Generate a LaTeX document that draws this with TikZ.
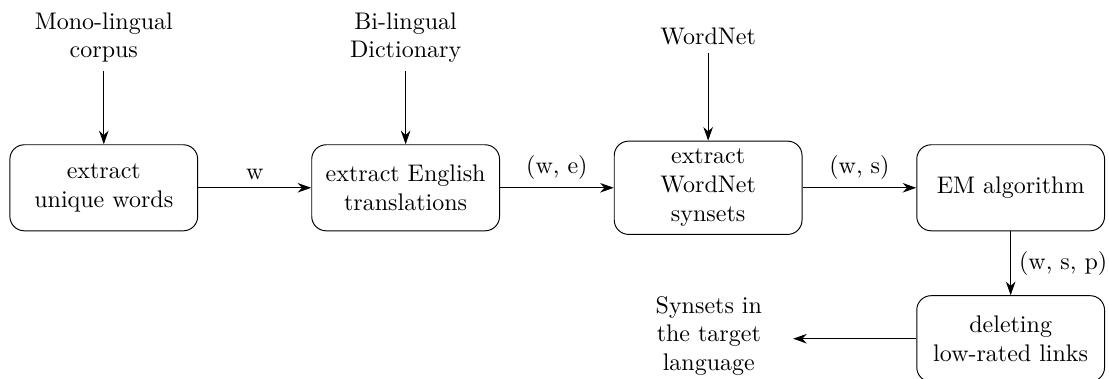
\documentclass[tikz,border=0pt]{standalone}
\usepackage{amsmath}
\usepackage{tikz}
\usetikzlibrary{arrows.meta, shapes.misc, calc}

\tikzset{
  stage/.style={shape=rectangle, rounded corners=6pt, draw=black, align=center, minimum width=2.75cm, minimum height=1.26cm},
  source/.style={align=center},
  flow/.style={-{Stealth[length=2mm, width=1.4mm]}}
}

\begin{document}
\begin{tikzpicture}
\useasboundingbox (0,0) rectangle (16.24,-5.55);

\node[source] (mono) at (1.52,-0.55) {Mono-lingual\\corpus};
\node[source] (dict) at (5.94,-0.55) {Bi-lingual\\Dictionary};
\node[source] (wn) at (10.37,-0.53) {WordNet};

\node[stage] (uniq) at (1.52,-2.75) {extract\\unique words};
\node[stage] (trans) at (5.94,-2.75) {extract English\\translations};
\node[stage] (syn) at (10.37,-2.75) {extract\\WordNet\\synsets};
\node[stage] (em) at (14.80,-2.75) {EM algorithm};
\node[stage] (del) at (14.80,-4.96) {deleting\\low-rated links};
\node[source, text width=2.22cm] (out) at (10.38,-4.92) {Synsets in the target language};

\draw[flow] (mono) -- (uniq);
\draw[flow] (dict) -- (trans);
\draw[flow] (wn) -- (syn);

\draw[flow] (uniq) -- node[above] {w} (trans);
\draw[flow] (trans) -- node[above] {(w, e)} (syn);
\draw[flow] (syn) -- node[above] {(w, s)} (em);
\draw[flow] (em) -- node[right] {(w, s, p)} (del);
\draw[flow] (del) -- (del.west -| out.east);

\end{tikzpicture}
\end{document}
